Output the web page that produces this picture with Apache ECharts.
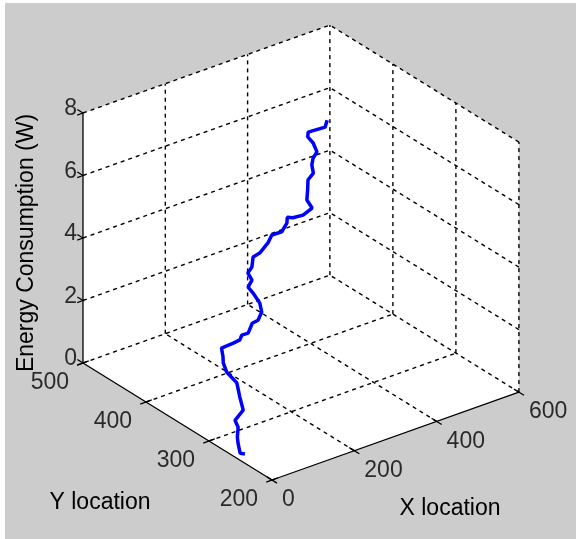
<!DOCTYPE html>
<html>
<head>
<meta charset="utf-8">
<script src="https://cdn.jsdelivr.net/npm/echarts@6/dist/echarts.min.js"></script>
<style>
  html, body { margin: 0; padding: 0; background: #ffffff; }
  #main { position: absolute; left: 5px; top: 3px; width: 571px; height: 536px; }
</style>
</head>
<body>
<div id="main"></div>
<script>
// path of the node: x location, y location, energy (W)
var xVals = [23,16,20,23,31,31,51,55,60,52,53,57,61,82,95,101,112,125,136,148,151,148,144,155,154,164,173,186,206,217,235,249,253,262,279,298,296,304,311,324,328,334,345,345,341,345,374,382];
var yVals = [258,261,267,270,274,279,279,287,295,306,312,315,320,315,313,314,311,313,311,313,318,327,332,333,339,339,343,341,341,342,338,339,341,338,333,331,338,342,346,346,351,353,354,360,366,368,360,362];
var zVals = [0,0.02,0.25,0.39,0.62,0.78,1.01,1.31,1.64,1.89,2.10,2.24,2.44,2.56,2.63,2.74,2.79,3.02,3.09,3.27,3.48,3.71,3.85,4.01,4.17,4.31,4.54,4.63,4.86,5.05,5.12,5.32,5.46,5.44,5.51,5.67,5.85,6.09,6.32,6.48,6.66,6.82,6.96,7.17,7.31,7.42,7.54,7.70];

var xTicks = [0,200,400,600];
var yTicks = [200,300,400,500];
var zTicks = [0,2,4,6,8];

var xMin = 0, xMax = 600, yMin = 200, yMax = 500, zMin = 0, zMax = 8;

// fixed 3d view (az -37.5, el 30 like matlab), mapped onto a flat value grid
function project(x, y, z) {
    var px = 267 + (x - xMin) * 0.4115 - (y - yMin) * 0.63;
    var py = 477 - (x - xMin) * 0.1465 - (y - yMin) * 0.39 - (z - zMin) * 31.25;
    return [px, py];
}

var walls = [
    [[xMin,yMin,zMin],[xMax,yMin,zMin],[xMax,yMax,zMin],[xMin,yMax,zMin]],  // floor
    [[xMin,yMax,zMin],[xMax,yMax,zMin],[xMax,yMax,zMax],[xMin,yMax,zMax]],  // back wall
    [[xMax,yMin,zMin],[xMax,yMax,zMin],[xMax,yMax,zMax],[xMax,yMin,zMax]]   // side wall
];

var gridSegs = [];
xTicks.forEach(function (x) {
    if (x > xMin) gridSegs.push([[x,yMin,zMin],[x,yMax,zMin]]);
    if (x > xMin) gridSegs.push([[x,yMax,zMin],[x,yMax,zMax]]);
});
yTicks.forEach(function (y) {
    if (y > yMin) gridSegs.push([[xMin,y,zMin],[xMax,y,zMin]]);
    if (y < yMax) gridSegs.push([[xMax,y,zMin],[xMax,y,zMax]]);
});
zTicks.forEach(function (z) {
    if (z > zMin) {
        gridSegs.push([[xMin,yMax,z],[xMax,yMax,z]]);
        gridSegs.push([[xMax,yMin,z],[xMax,yMax,z]]);
    }
});

var axisSegs = [
    [[xMin,yMin,zMin],[xMax,yMin,zMin]],
    [[xMin,yMin,zMin],[xMin,yMax,zMin]],
    [[xMin,yMax,zMin],[xMin,yMax,zMax]]
];
xTicks.forEach(function (x) { axisSegs.push([[x,yMin-8,zMin],[x,yMin+8,zMin]]); });
yTicks.forEach(function (y) { axisSegs.push([[xMin-14,y,zMin],[xMin+14,y,zMin]]); });
zTicks.forEach(function (z) {
    axisSegs.push([[xMin-14,yMax,z],[xMin,yMax,z]]);
    axisSegs.push([[xMin,yMax+9,z],[xMin,yMax,z]]);
});

function segSeries(segs, style) {
    return {
        type: 'custom',
        coordinateSystem: 'cartesian2d',
        silent: true,
        data: segs.map(function (s, i) { return [i, 0]; }),
        renderItem: function (params, api) {
            var s = segs[params.dataIndex];
            var a = api.coord(project(s[0][0], s[0][1], s[0][2]));
            var b = api.coord(project(s[1][0], s[1][1], s[1][2]));
            return { type: 'line', shape: { x1: a[0], y1: a[1], x2: b[0], y2: b[1] }, style: style };
        }
    };
}

function labelSeries(points, texts, label) {
    return {
        type: 'scatter',
        symbolSize: 0,
        silent: true,
        data: points.map(function (p, i) { return { value: project(p[0], p[1], p[2]), name: texts[i] }; }),
        label: Object.assign({
            show: true,
            formatter: '{b}',
            fontFamily: 'Liberation Sans, Arial, sans-serif',
            fontSize: 23,
            color: '#000'
        }, label)
    };
}

var font = 'Liberation Sans, Arial, sans-serif';
var myChart = echarts.init(document.getElementById('main'));
myChart.setOption({
    backgroundColor: '#cccccc',
    animation: false,
    grid: { left: 0, right: 0, top: 0, bottom: 0 },
    xAxis: { type: 'value', min: 0, max: 571, show: false },
    yAxis: { type: 'value', min: 0, max: 536, inverse: true, show: false },
    series: [
        {
            type: 'custom',
            coordinateSystem: 'cartesian2d',
            silent: true,
            data: walls.map(function (w, i) { return [i, 0]; }),
            renderItem: function (params, api) {
                var pts = walls[params.dataIndex].map(function (p) { return api.coord(project(p[0], p[1], p[2])); });
                return { type: 'polygon', shape: { points: pts }, style: { fill: '#ffffff', stroke: null } };
            }
        },
        segSeries(gridSegs, { stroke: '#000', lineWidth: 1.4, lineDash: [4, 4] }),
        segSeries(axisSegs, { stroke: '#000', lineWidth: 1.3 }),
        {
            type: 'line',
            showSymbol: false,
            silent: true,
            data: xVals.map(function (x, i) { return project(x, yVals[i], zVals[i]); }),
            lineStyle: { color: '#0000ff', width: 3.5 }
        },
        labelSeries(xTicks.map(function (x) { return [x, yMin, zMin]; }), xTicks.map(String),
            { position: [0, 0], offset: [10, 20], align: 'left', verticalAlign: 'middle' }),
        labelSeries(yTicks.map(function (y) { return [xMin, y, zMin]; }), yTicks.map(String),
            { position: [0, 0], offset: [-14, 20], align: 'right', verticalAlign: 'middle' }),
        labelSeries(zTicks.map(function (z) { return [xMin, yMax, z]; }), zTicks.map(String),
            { position: [0, 0], offset: [-6, -4], align: 'right', verticalAlign: 'middle' })
    ],
    graphic: [
        { type: 'text', x: 95, y: 500, style: { text: 'Y location', font: '23px ' + font, fill: '#000', textAlign: 'center', textVerticalAlign: 'middle' } },
        { type: 'text', x: 445, y: 506, style: { text: 'X location', font: '23px ' + font, fill: '#000', textAlign: 'center', textVerticalAlign: 'middle' } },
        { type: 'text', x: 22, y: 240, rotation: Math.PI / 2, style: { text: 'Energy Consumption (W)', font: '23px ' + font, fill: '#000', textAlign: 'center', textVerticalAlign: 'middle' } }
    ]
});
</script>
</body>
</html>
